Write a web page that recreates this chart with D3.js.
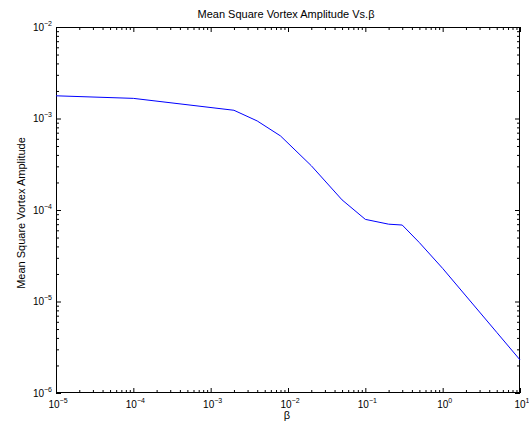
<!DOCTYPE html>
<html><head><meta charset="utf-8">
<script src="https://cdn.jsdelivr.net/npm/d3@7"></script>
<style>
html,body{margin:0;padding:0;background:#fff;}
svg{display:block;font-family:"Liberation Sans",Arial,Helvetica,sans-serif;}
</style></head>
<body>
<svg id="chart" width="529" height="427"></svg>
<script>
// Data
const beta = [1e-5, 1e-4, 2e-3, 4e-3, 8e-3, 2e-2, 5e-2, 0.1, 0.2, 0.3, 0.5, 1, 2, 5, 10];
const amplitude = [1.77e-3, 1.66e-3, 1.23e-3, 9.4e-4, 6.45e-4, 3.05e-4, 1.29e-4, 7.9e-5, 7.0e-5, 6.85e-5, 4.4e-5, 2.3e-5, 1.15e-5, 4.6e-6, 2.3e-6];
const xTickExponents = [-5, -4, -3, -2, -1, 0, 1];
const yTickExponents = [-6, -5, -4, -3, -2];
const titleText = "Mean Square Vortex Amplitude Vs.\u03B2";
const xLabelText = "\u03B2";
const yLabelText = "Mean Square Vortex Amplitude";

const svg = d3.select("#chart");
const L = 56, R = 520, T = 27, B = 393;
const x = d3.scaleLog().domain([1e-5, 10]).range([L, R]);
const y = d3.scaleLog().domain([1e-6, 1e-2]).range([B, T]);

const majorX = xTickExponents.map(e => Math.pow(10, e));
const majorY = yTickExponents.map(e => Math.pow(10, e));
const minorX = [], minorY = [];
for (let i = 0; i < xTickExponents.length - 1; i++)
  for (let k = 2; k <= 9; k++) minorX.push(k * Math.pow(10, xTickExponents[i]));
for (let i = 0; i < yTickExponents.length - 1; i++)
  for (let k = 2; k <= 9; k++) minorY.push(k * Math.pow(10, yTickExponents[i]));

const MAJ = 5, MIN = 3;
function ticks(axisFn, scale, vals, len, tr) {
  const g = svg.append("g").attr("transform", tr)
    .call(axisFn(scale).tickValues(vals).tickSizeInner(len).tickSizeOuter(0).tickFormat(""));
  g.select(".domain").remove();
  g.selectAll("line").attr("stroke", "#000").attr("stroke-width", 1);
  return g;
}
// bottom & top
ticks(d3.axisBottom, x, majorX, -MAJ, `translate(0,${B})`);
ticks(d3.axisBottom, x, minorX, -MIN, `translate(0,${B})`);
ticks(d3.axisTop, x, majorX, -MAJ, `translate(0,${T})`);
ticks(d3.axisTop, x, minorX, -MIN, `translate(0,${T})`);
// left & right
ticks(d3.axisLeft, y, majorY, -MAJ, `translate(${L},0)`);
ticks(d3.axisLeft, y, minorY, -MIN, `translate(${L},0)`);
ticks(d3.axisRight, y, majorY, -MAJ, `translate(${R},0)`);
ticks(d3.axisRight, y, minorY, -MIN, `translate(${R},0)`);

// frame
svg.append("rect").attr("x", L + 0.5).attr("y", T + 0.5)
  .attr("width", R - L - 1).attr("height", B - T - 1)
  .attr("fill", "none").attr("stroke", "#000").attr("stroke-width", 1);

// tick labels
const xl = svg.append("g");
xTickExponents.forEach(e => {
  const t = xl.append("text").attr("x", x(Math.pow(10, e)) + 2).attr("y", 408)
    .attr("text-anchor", "middle").attr("font-size", 10).attr("fill", "#000");
  t.append("tspan").text("10");
  t.append("tspan").attr("dy", -5).attr("font-size", 7).text(e < 0 ? "\u2212" + (-e) : String(e));
});
const yl = svg.append("g");
yTickExponents.forEach(e => {
  const t = yl.append("text").attr("x", 52).attr("y", y(Math.pow(10, e)) + 3.5)
    .attr("text-anchor", "end").attr("font-size", 10).attr("fill", "#000");
  t.append("tspan").text("10");
  t.append("tspan").attr("dy", -5).attr("font-size", 7).text("\u2212" + (-e));
});

// line
const line = d3.line().x((d, i) => x(beta[i])).y((d, i) => y(amplitude[i]));
svg.append("path").datum(amplitude).attr("d", line)
  .attr("fill", "none").attr("stroke", "#0000ff").attr("stroke-width", 1);

// titles
svg.append("text").attr("x", 286).attr("y", 17.5).attr("text-anchor", "middle")
  .attr("font-size", 11).attr("fill", "#000").text(titleText);
svg.append("text").attr("x", 287).attr("y", 419).attr("text-anchor", "middle")
  .attr("font-size", 11).attr("fill", "#000").text(xLabelText);
svg.append("text").attr("transform", "translate(24.5,213) rotate(-90)").attr("text-anchor", "middle")
  .attr("font-size", 11).attr("fill", "#000").text(yLabelText);
</script>
</body></html>
